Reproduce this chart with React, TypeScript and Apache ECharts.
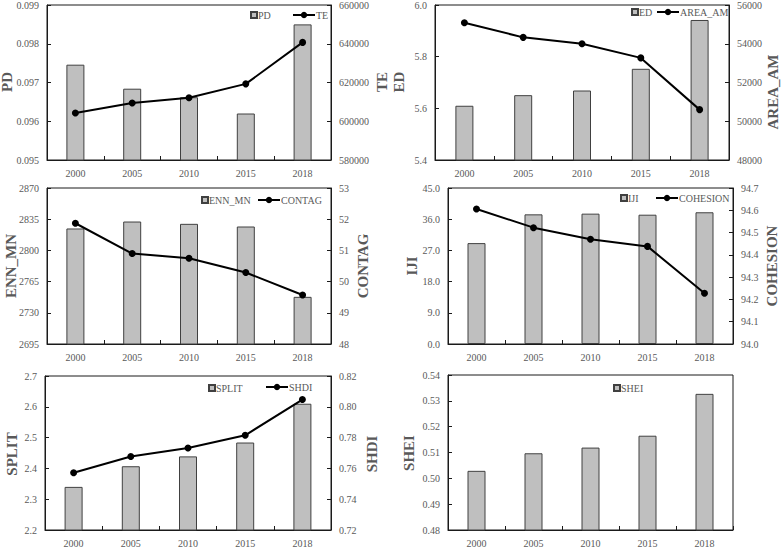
import React, { useEffect, useRef } from "react";
import * as echarts from "echarts";

const years = ["2000", "2005", "2010", "2015", "2018"];

const PD = [0.09746, 0.09684, 0.09662, 0.0962, 0.0985];
const TE = [604300, 609400, 612100, 619300, 640700];
const ED = [5.61, 5.651, 5.669, 5.753, 5.942];
const AREA_AM = [55080, 54330, 54000, 53270, 50600];
const ENN_MN = [2824.6, 2832.4, 2829.8, 2826.8, 2747.9];
const CONTAG = [51.87, 50.9, 50.75, 50.29, 49.57];
const IJI = [29.1, 37.4, 37.6, 37.3, 38.0];
const COHESION = [94.606, 94.522, 94.47, 94.438, 94.228];
const SPLIT = [2.34, 2.407, 2.439, 2.484, 2.61];
const SHDI = [0.7572, 0.7677, 0.7732, 0.7815, 0.8047];
const SHEI = [0.5029, 0.5097, 0.5119, 0.5165, 0.5327];

const FONT = "'Liberation Serif', 'Times New Roman', serif";
const LABEL_COLOR = "#595959";
const AXIS_COLOR = "#1a1a1a";

type Ax = { name: string; data: number[]; min: number; max: number; interval: number; dec: number; title: [number, number] };
type Panel = {
  grid: { left: number; top: number; width: number; height: number };
  bar: Ax;
  line?: Ax;
  barLegend: { left: number; top: number };
  lineLegend?: { left: number; top: number };
};

const panels: Panel[] = [
  {
    grid: { left: 47, top: 4, width: 284, height: 156 },
    bar: { name: "PD", data: PD, min: 0.095, max: 0.099, interval: 0.001, dec: 3, title: [7, 82] },
    line: { name: "TE", data: TE, min: 580000, max: 660000, interval: 20000, dec: 0, title: [382, 82] },
    barLegend: { left: 250, top: 10 },
    lineLegend: { left: 292, top: 10 },
  },
  {
    grid: { left: 435, top: 4, width: 294, height: 156 },
    bar: { name: "ED", data: ED, min: 5.4, max: 6.0, interval: 0.2, dec: 1, title: [399, 82] },
    line: { name: "AREA_AM", data: AREA_AM, min: 48000, max: 56000, interval: 2000, dec: 0, title: [773, 92] },
    barLegend: { left: 631, top: 7 },
    lineLegend: { left: 656, top: 7 },
  },
  {
    grid: { left: 47, top: 188, width: 284, height: 156 },
    bar: { name: "ENN_MN", data: ENN_MN, min: 2695, max: 2870, interval: 35, dec: 0, title: [11, 266] },
    line: { name: "CONTAG", data: CONTAG, min: 48, max: 53, interval: 1, dec: 0, title: [363, 266] },
    barLegend: { left: 201, top: 195 },
    lineLegend: { left: 257, top: 195 },
  },
  {
    grid: { left: 448, top: 188, width: 285, height: 156 },
    bar: { name: "IJI", data: IJI, min: 0, max: 45, interval: 9, dec: 1, title: [412, 266] },
    line: { name: "COHESION", data: COHESION, min: 94.0, max: 94.7, interval: 0.1, dec: 1, title: [772, 266] },
    barLegend: { left: 620, top: 193 },
    lineLegend: { left: 655, top: 193 },
  },
  {
    grid: { left: 45, top: 376, width: 286, height: 156 },
    bar: { name: "SPLIT", data: SPLIT, min: 2.2, max: 2.7, interval: 0.1, dec: 1, title: [12, 454] },
    line: { name: "SHDI", data: SHDI, min: 0.72, max: 0.82, interval: 0.02, dec: 2, title: [372, 454] },
    barLegend: { left: 208, top: 383 },
    lineLegend: { left: 265, top: 382 },
  },
  {
    grid: { left: 448, top: 375, width: 285, height: 157 },
    bar: { name: "SHEI", data: SHEI, min: 0.48, max: 0.54, interval: 0.01, dec: 2, title: [409, 453] },
    barLegend: { left: 613, top: 383 },
  },
];

function buildOption() {
  const grid: any[] = [];
  const xAxis: any[] = [];
  const yAxis: any[] = [];
  const series: any[] = [];
  const legend: any[] = [];
  const graphic: any[] = [];

  const yBase = (ax: Ax, gi: number, pos: "left" | "right") => ({
    type: "value",
    gridIndex: gi,
    position: pos,
    min: ax.min,
    max: ax.max,
    interval: ax.interval,
    axisLine: { show: true, lineStyle: { color: AXIS_COLOR, width: 1 } },
    axisTick: { show: true, inside: true, length: 4, lineStyle: { color: AXIS_COLOR } },
    splitLine: { show: false },
    axisLabel: {
      fontFamily: FONT,
      fontSize: 10,
      color: LABEL_COLOR,
      margin: 8,
      formatter: (v: number) => v.toFixed(ax.dec),
    },
  });

  const title = (ax: Ax) => ({
    type: "text",
    x: ax.title[0],
    y: ax.title[1],
    rotation: Math.PI / 2,
    silent: true,
    style: {
      text: ax.name,
      fontFamily: FONT,
      fontSize: 15,
      fontWeight: "bold",
      fill: LABEL_COLOR,
      align: "center",
      verticalAlign: "middle",
      textAlign: "center",
      textVerticalAlign: "middle",
    },
  });

  panels.forEach((p, gi) => {
    grid.push({
      left: p.grid.left,
      top: p.grid.top,
      width: p.grid.width,
      height: p.grid.height,
      show: true,
      borderColor: AXIS_COLOR,
      borderWidth: 1,
      backgroundColor: "transparent",
    });
    xAxis.push({
      type: "category",
      gridIndex: gi,
      data: years,
      boundaryGap: true,
      axisLine: { show: true, lineStyle: { color: AXIS_COLOR, width: 1 } },
      axisTick: { show: true, inside: true, length: 4, lineStyle: { color: AXIS_COLOR } },
      axisLabel: { fontFamily: FONT, fontSize: 10, color: LABEL_COLOR, margin: 8 },
    });
    const barY = yAxis.length;
    yAxis.push(yBase(p.bar, gi, "left"));
    graphic.push(title(p.bar));
    series.push({
      type: "bar",
      name: p.bar.name,
      xAxisIndex: gi,
      yAxisIndex: barY,
      data: p.bar.data,
      barWidth: 18,
      itemStyle: { color: "#bfbfbf", borderColor: "#404040", borderWidth: 1 },
    });
    legend.push({
      data: [p.bar.name],
      left: p.barLegend.left,
      top: p.barLegend.top,
      padding: 0,
      icon: "rect",
      itemWidth: 6,
      itemHeight: 6,
      itemGap: 0,
      textStyle: { fontFamily: FONT, fontSize: 10, color: LABEL_COLOR, padding: [0, 0, 0, -4] },
    });
    if (p.line && p.lineLegend) {
      const lineY = yAxis.length;
      yAxis.push(yBase(p.line, gi, "right"));
      graphic.push(title(p.line));
      series.push({
        type: "line",
        name: p.line.name,
        xAxisIndex: gi,
        yAxisIndex: lineY,
        data: p.line.data,
        symbol: "circle",
        symbolSize: 7,
        lineStyle: { color: "#000", width: 2 },
        itemStyle: { color: "#000" },
        z: 3,
      });
      legend.push({
        data: [p.line.name],
        left: p.lineLegend.left,
        top: p.lineLegend.top,
        padding: 0,
        itemWidth: 22,
        itemHeight: 8,
        itemGap: 0,
        textStyle: { fontFamily: FONT, fontSize: 10, color: LABEL_COLOR, padding: [0, 0, 0, -4] },
      });
    }
  });

  return {
    animation: false,
    backgroundColor: "#ffffff",
    textStyle: { fontFamily: FONT },
    grid,
    xAxis,
    yAxis,
    series,
    legend,
    graphic,
  };
}

export default function App() {
  const ref = useRef<HTMLDivElement>(null);
  useEffect(() => {
    if (!ref.current) return;
    const chart = echarts.init(ref.current, undefined, { renderer: "svg" });
    chart.setOption(buildOption() as any);
    return () => chart.dispose();
  }, []);
  return (
    <div
      ref={ref}
      style={{ position: "fixed", left: 0, top: 0, width: 782, height: 548, background: "#fff" }}
    />
  );
}
